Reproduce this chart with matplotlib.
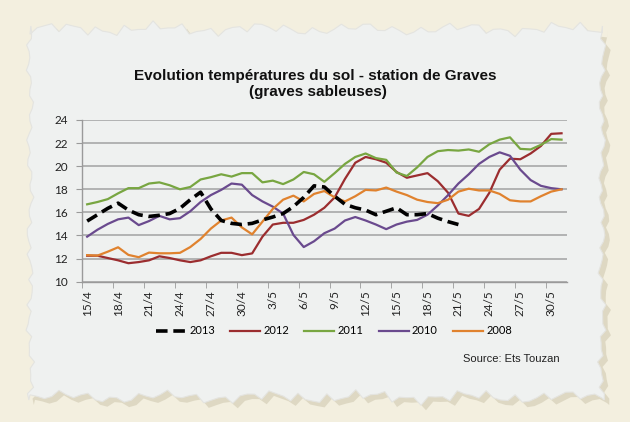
import matplotlib.pyplot as plt
from matplotlib.patches import Polygon
import numpy as np

# jours du 15/4 au 31/5
days = ['15/4', '16/4', '17/4', '18/4', '19/4', '20/4', '21/4', '22/4', '23/4', '24/4',
        '25/4', '26/4', '27/4', '28/4', '29/4', '30/4', '1/5', '2/5', '3/5', '4/5',
        '5/5', '6/5', '7/5', '8/5', '9/5', '10/5', '11/5', '12/5', '13/5', '14/5',
        '15/5', '16/5', '17/5', '18/5', '19/5', '20/5', '21/5', '22/5', '23/5', '24/5',
        '25/5', '26/5', '27/5', '28/5', '29/5', '30/5', '31/5']

t2013 = [15.25, 15.8, 16.35, 16.8, 16.2, 15.8, 15.65, 15.75, 15.9, 16.35,
         17.1, 17.75, 16.3, 15.3, 15.05, 14.95, 15.05, 15.35, 15.6, 15.9,
         16.5, 17.3, 18.3, 18.2, 17.4, 16.7, 16.4, 16.2, 15.8, 16.1,
         16.4, 15.8, 15.8, 15.9, 15.5, 15.2, 14.95] + [None] * 10
t2012 = [12.25, 12.25, 12.05, 11.85, 11.6, 11.7, 11.85, 12.2, 12.05, 11.85,
         11.7, 11.85, 12.2, 12.5, 12.5, 12.3, 12.45, 13.9, 14.95, 15.1,
         15.1, 15.35, 15.8, 16.4, 17.3, 18.9, 20.3, 20.8, 20.6, 20.3,
         19.5, 19.0, 19.2, 19.4, 18.7, 17.7, 15.9, 15.7, 16.3, 17.7,
         19.7, 20.65, 20.6, 21.1, 21.75, 22.8, 22.85]
t2011 = [16.7, 16.9, 17.15, 17.65, 18.1, 18.1, 18.5, 18.6, 18.35, 18.0,
         18.2, 18.85, 19.05, 19.3, 19.1, 19.4, 19.4, 18.6, 18.75, 18.45,
         18.85, 19.5, 19.3, 18.65, 19.4, 20.2, 20.8, 21.1, 20.7, 20.55,
         19.45, 19.15, 19.9, 20.8, 21.3, 21.4, 21.35, 21.45, 21.25, 21.9,
         22.3, 22.5, 21.5, 21.45, 21.85, 22.35, 22.3]
t2010 = [13.9, 14.5, 15.0, 15.4, 15.55, 14.9, 15.25, 15.7, 15.4, 15.5,
         16.1, 16.9, 17.5, 17.95, 18.5, 18.4, 17.5, 16.95, 16.5, 15.9,
         14.05, 13.0, 13.5, 14.2, 14.6, 15.3, 15.6, 15.3, 14.95, 14.55,
         14.95, 15.2, 15.35, 15.8, 16.6, 17.5, 18.5, 19.3, 20.2, 20.8,
         21.2, 20.9, 19.7, 18.8, 18.3, 18.1, 18.0]
t2008 = [12.3, 12.26, 12.6, 12.98, 12.32, 12.12, 12.52, 12.46, 12.46, 12.5,
         13.0, 13.7, 14.6, 15.3, 15.55, 14.7, 14.1, 15.2, 16.3, 17.1,
         17.45, 16.95, 17.6, 17.85, 17.3, 16.95, 17.4, 17.95, 17.9, 18.15,
         17.8, 17.5, 17.1, 16.9, 16.8, 17.1, 17.8, 18.05, 17.9, 17.9,
         17.6, 17.05, 16.95, 16.95, 17.4, 17.8, 18.0]

W, H = 630, 422
fig = plt.figure(figsize=(W / 100, H / 100), dpi=100)
fig.patch.set_facecolor('#f3efdf')

# fond "papier déchiré"
deco = fig.add_axes([0, 0, 1, 1], zorder=0)
deco.set_xlim(0, W)
deco.set_ylim(H, 0)
deco.axis('off')

def jag(n, a, seed):
    k = np.arange(n)
    return a * (np.sin(k * 1.7 + seed) * 0.5 + np.sin(k * 3.1 + 2 * seed) * 0.3
                + np.sin(k * 0.45 + 3 * seed) * 0.4)

xs = np.linspace(30, 602, 80)
ys = np.linspace(26, 400, 60)
top = np.column_stack([xs, 29 + jag(80, 7, 1)])
right = np.column_stack([602 + jag(60, 4, 2), ys])
bottom = np.column_stack([xs[::-1], 397 + jag(80, 7, 3)])
left = np.column_stack([30 + jag(60, 4, 4), ys[::-1]])
pts = np.vstack([top, right, bottom, left])
deco.add_patch(Polygon(pts + [5, 5], closed=True, facecolor='#d9d3bd', edgecolor='none', alpha=0.8))
deco.add_patch(Polygon(pts, closed=True, facecolor='#eff1f0', edgecolor='#e4e4e0', lw=0.8))

# titre
deco.text(315, 76, 'Evolution températures du sol - station de Graves', ha='center', va='center',
          fontsize=11, fontweight='bold', family='Liberation Sans', color='#111111')
deco.text(318, 92, '(graves sableuses)', ha='center', va='center',
          fontsize=11, fontweight='bold', family='Liberation Sans', color='#111111')
deco.text(560, 359, 'Source: Ets Touzan', ha='right', va='center',
          fontsize=8, family='Liberation Sans', color='#222222')

ax = fig.add_axes([82 / W, 1 - 281.7 / H, (566.7 - 82) / W, (281.7 - 120) / H], zorder=1)
ax.patch.set_alpha(0)
x = np.arange(len(days))

def arr(v):
    return np.array([np.nan if a is None else a for a in v], dtype=float)

ax.plot(x, arr(t2012), color='#9b2d2f', lw=1.6, label='2012', zorder=3)
ax.plot(x, arr(t2011), color='#78a641', lw=1.6, label='2011', zorder=3)
ax.plot(x, arr(t2010), color='#6a4a8e', lw=1.6, label='2010', zorder=3)
ax.plot(x, arr(t2008), color='#e0822e', lw=1.6, label='2008', zorder=3)
ax.plot(x, arr(t2013), color='black', lw=2.6, dashes=(3.2, 1.6), label='2013', zorder=4)

ax.set_xlim(-0.5, len(days) - 0.5)
ax.set_ylim(10, 24)
ax.set_yticks(range(10, 25, 2))
ax.yaxis.grid(True, color='#a8a8a8', lw=1.2)
ax.set_axisbelow(True)
for s in ['top', 'right']:
    ax.spines[s].set_visible(False)
for s in ['left', 'bottom']:
    ax.spines[s].set_color('#9a9a9a')
    ax.spines[s].set_linewidth(1.0)

lab_pos = x[::3]
ax.set_xticks(lab_pos)
ax.set_xticklabels([days[i] for i in lab_pos], rotation=90, family='Lato', fontsize=8.5, color='#222222')
ax.set_xticks(np.arange(-0.5, len(days), 3), minor=True)
ax.tick_params(axis='x', which='major', length=0, pad=6)
ax.tick_params(axis='x', which='minor', length=4, color='#9a9a9a', direction='out')
ax.tick_params(axis='y', length=4, color='#9a9a9a', pad=6, labelsize=8.5, labelcolor='#222222')
for t in ax.get_yticklabels():
    t.set_family('Lato')

h, l = ax.get_legend_handles_labels()
order = [4, 0, 1, 2, 3]
leg = fig.legend([h[i] for i in order], [l[i] for i in order], loc='center',
                 bbox_to_anchor=(334 / W, 1 - 331 / H), ncol=5, frameon=False,
                 prop={'family': 'Lato', 'size': 8}, handlelength=2.7,
                 handletextpad=0.3, columnspacing=1.35)

fig.savefig('out.png', dpi=100, facecolor=fig.get_facecolor())
